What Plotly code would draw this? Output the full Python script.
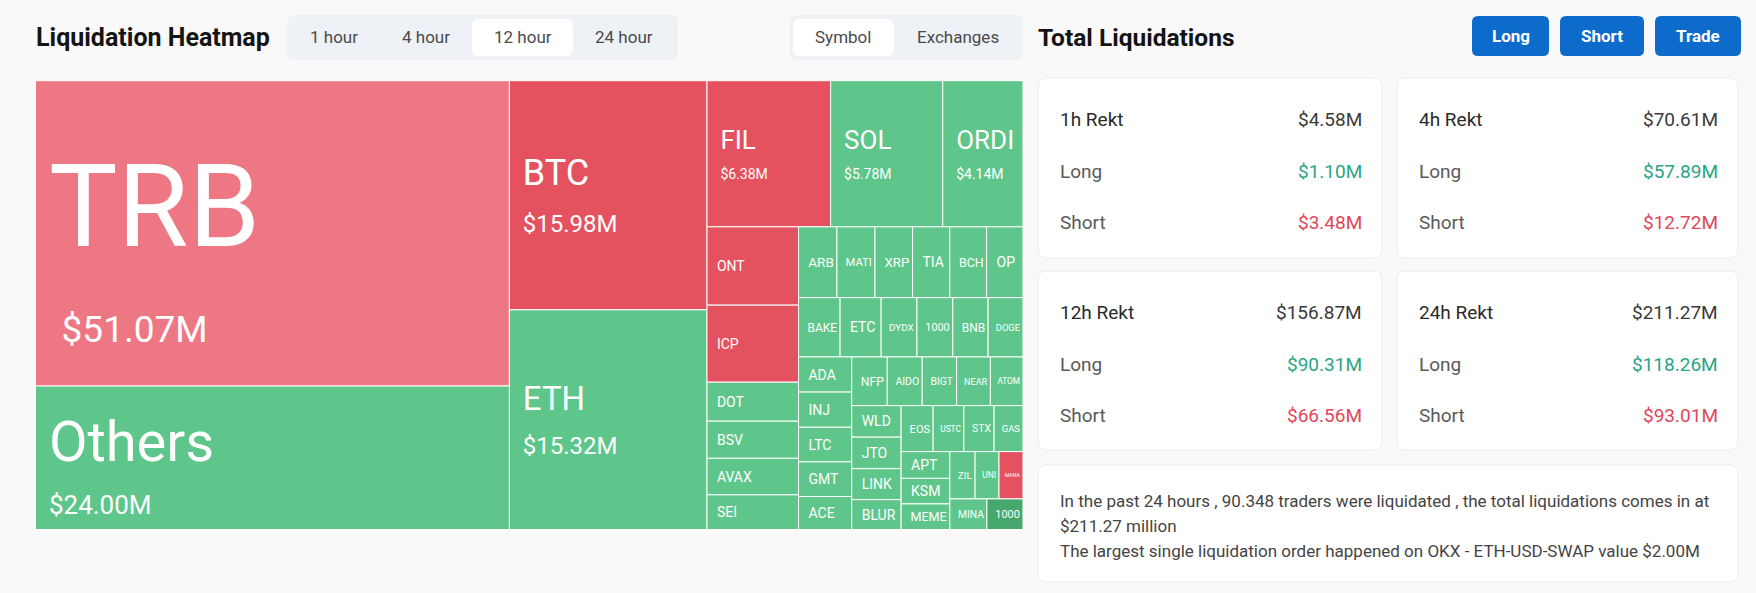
import plotly.graph_objects as go

# ---------------- data ----------------
symbols = ["TRB", "Others", "BTC", "ETH", "FIL", "SOL", "ORDI", "ONT", "ICP",
           "DOT", "BSV", "AVAX", "SEI", "ARB", "MATIC", "XRP", "TIA", "BCH", "OP",
           "BAKE", "ETC", "DYDX", "1000SATS", "BNB", "DOGE", "ADA", "INJ", "LTC",
           "GMT", "ACE", "NFP", "AIDOGE", "BIGTIME", "NEAR", "ATOM", "WLD", "JTO",
           "LINK", "BLUR", "EOS", "USTC", "STX", "GAS", "APT", "KSM", "MEME",
           "ZIL", "UNI", "MANA", "MINA", "1000BONK"]
liq_usd_m = [51.07, 24.00, 15.98, 15.32, 6.38, 5.78, 4.14, 2.53, 2.49,
             1.26, 1.20, 1.18, 1.12, 0.96, 0.95, 0.94, 0.93, 0.92, 0.91,
             0.87, 0.86, 0.75, 0.75, 0.74, 0.73, 0.66, 0.66, 0.65,
             0.65, 0.62, 0.61, 0.60, 0.59, 0.58, 0.56, 0.55, 0.55,
             0.54, 0.52, 0.52, 0.50, 0.49, 0.47, 0.46, 0.44, 0.44,
             0.42, 0.40, 0.40, 0.40, 0.39]
cell_tone = ["down_weak", "up", "down", "up", "down", "up", "up", "down", "down",
             "up", "up", "up", "up", "up", "up", "up", "up", "up", "up",
             "up", "up", "up", "up", "up", "up", "up", "up", "up",
             "up", "up", "up", "up", "up", "up", "up", "up", "up",
             "up", "up", "up", "up", "up", "up", "up", "up", "up",
             "up", "up", "down", "up", "up_strong"]

time_tabs = ["1 hour", "4 hour", "12 hour", "24 hour"]
selected_time = "12 hour"
view_tabs = ["Symbol", "Exchanges"]
selected_view = "Symbol"
action_buttons = ["Long", "Short", "Trade"]

periods = ["1h", "4h", "12h", "24h"]
total_rekt = [4.58, 70.61, 156.87, 211.27]
long_rekt = [1.10, 57.89, 90.31, 118.26]
short_rekt = [3.48, 12.72, 66.56, 93.01]

traders_24h = "90.348"
largest_exchange = "OKX"
largest_pair = "ETH-USD-SWAP"
largest_value_m = 2.00

# ---------------- styles ----------------
W, H = 1756, 593
FONT = "Roboto"
tone_colors = {"down_weak": "#EE7784", "down": "#E5525F",
               "up": "#5EC68A", "up_strong": "#47A86E"}
big_label_px = {"TRB": 115, "Others": 56, "BTC": 36, "ETH": 33,
                "FIL": 26, "SOL": 26, "ORDI": 26}
big_value_px = {"TRB": 37, "Others": 26, "BTC": 24, "ETH": 24,
                "FIL": 14, "SOL": 14, "ORDI": 14}
big_line_px = {"TRB": 74, "Others": 41, "BTC": 36, "ETH": 34,
               "FIL": 23, "SOL": 23, "ORDI": 23}
value_indent_px = {"TRB": 31}
top_strut_px = {"TRB": 140, "Others": 71}   # raises line box -> nudges text down
small_label_px = 14
small_max_chars = 4                         # cell text truncation (overflow)
NB = "\u00a0"


def fx(x):
    return x / W


def fy(y):
    return 1 - y / H


def sp(size, n=3):
    return f'<span style="font-size:{size}px">{NB * n}</span>'


cell_text, cell_size = [], []
for s, v in zip(symbols, liq_usd_m):
    if s in big_label_px:
        strut = sp(top_strut_px[s], 1) if s in top_strut_px else ""
        cell_text.append(
            f'{sp(14)}<span style="font-size:{big_label_px[s]}px">{s}</span>{strut}<br>'
            f'{sp(value_indent_px.get(s, 14))}'
            f'<span style="font-size:{big_value_px[s]}px">${v:.2f}M</span>')
        cell_size.append(big_line_px[s])
    else:
        cell_text.append(NB * 2 + s[:small_max_chars])
        cell_size.append(small_label_px)

fig = go.Figure(go.Treemap(
    labels=symbols,
    parents=[""] * len(symbols),
    values=liq_usd_m,
    text=cell_text,
    textinfo="text",
    textposition="middle left",
    textfont=dict(family=FONT, color="white", size=cell_size),
    marker=dict(colors=[tone_colors[t] for t in cell_tone],
                line=dict(color="white", width=1),
                pad=dict(t=0, l=0, r=0, b=0)),
    tiling=dict(packing="squarify", squarifyratio=1.618034, pad=0),
    pathbar=dict(visible=False),
    root=dict(color="rgba(0,0,0,0)"),
    sort=True,
    hoverinfo="skip",
    domain=dict(x=[fx(35.5), fx(1023)], y=[fy(529.5), fy(80.7)]),
))


def rrect(x0, y0, x1, y1, r, fill, line=None):
    p = (f"M {fx(x0 + r)},{fy(y0)} L {fx(x1 - r)},{fy(y0)} "
         f"Q {fx(x1)},{fy(y0)} {fx(x1)},{fy(y0 + r)} L {fx(x1)},{fy(y1 - r)} "
         f"Q {fx(x1)},{fy(y1)} {fx(x1 - r)},{fy(y1)} L {fx(x0 + r)},{fy(y1)} "
         f"Q {fx(x0)},{fy(y1)} {fx(x0)},{fy(y1 - r)} L {fx(x0)},{fy(y0 + r)} "
         f"Q {fx(x0)},{fy(y0)} {fx(x0 + r)},{fy(y0)} Z")
    return dict(type="path", path=p, xref="paper", yref="paper",
                fillcolor=fill, layer="below",
                line=dict(color=line if line else fill, width=1 if line else 0))


shapes, ann = [], []


def txt(x, y, s, size, color, anchor="left", bold=False):
    ann.append(dict(x=fx(x), y=fy(y), xref="paper", yref="paper",
                    text=f"<b>{s}</b>" if bold else s, showarrow=False,
                    xanchor=anchor, yanchor="middle",
                    font=dict(family=FONT, size=size, color=color)))


# header left
txt(34, 38, "Liquidation Heatmap", 25, "#141414", bold=True)
shapes.append(rrect(287, 15, 678, 60, 8, "#EEF1F6"))
tab_cx = [334, 426, 523, 624]
tab_box = [(292, 376), (380, 470), (472, 573), (575, 673)]
for lab, cx, bx in zip(time_tabs, tab_cx, tab_box):
    if lab == selected_time:
        shapes.append(rrect(bx[0], 19, bx[1], 56, 7, "#FFFFFF"))
    txt(cx, 37, lab, 17, "#4A4A4A", anchor="center")
shapes.append(rrect(790, 15, 1023, 60, 8, "#EEF1F6"))
view_cx = [843, 958]
view_box = [(793, 894), (898, 1019)]
for lab, cx, bx in zip(view_tabs, view_cx, view_box):
    if lab == selected_view:
        shapes.append(rrect(bx[0], 19, bx[1], 56, 7, "#FFFFFF"))
    txt(cx, 37, lab, 17, "#4A4A4A", anchor="center")

# header right
txt(1036, 37, "Total Liquidations", 24.5, "#141414", bold=True)
btn_box = [(1472, 1549), (1560, 1644), (1655, 1741)]
for lab, bx in zip(action_buttons, btn_box):
    shapes.append(rrect(bx[0], 16, bx[1], 56, 6, "#0D6CCB"))
    txt((bx[0] + bx[1]) / 2, 36, lab, 17, "#FFFFFF", anchor="center", bold=True)

# cards
card_x = [(1038, 1382), (1397, 1738)]
card_y = [(78, 258), (271, 450)]
row_off = [41, 93, 144]
for i, p in enumerate(periods):
    cx0, cx1 = card_x[i % 2]
    cy0, cy1 = card_y[i // 2]
    shapes.append(rrect(cx0, cy0, cx1, cy1, 8, "#FFFFFF", line="#EBEBEB"))
    lx, rx = cx0 + 20, cx1 - 18
    txt(lx, cy0 + row_off[0], f"{p} Rekt", 19, "#2A2A2A")
    txt(rx, cy0 + row_off[0], f"${total_rekt[i]:.2f}M", 19, "#3A3A3A", anchor="right")
    txt(lx, cy0 + row_off[1], "Long", 19, "#5A5A5A")
    txt(rx, cy0 + row_off[1], f"${long_rekt[i]:.2f}M", 19, "#2AA584", anchor="right")
    txt(lx, cy0 + row_off[2], "Short", 19, "#5A5A5A")
    txt(rx, cy0 + row_off[2], f"${short_rekt[i]:.2f}M", 19, "#E0475B", anchor="right")

shapes.append(rrect(1038, 465, 1738, 582, 8, "#FFFFFF", line="#EBEBEB"))
lines = [
    f"In the past 24 hours , {traders_24h} traders were liquidated , "
    f"the total liquidations comes in at",
    f"${total_rekt[3]:.2f} million",
    f"The largest single liquidation order happened on {largest_exchange} - "
    f"{largest_pair} value ${largest_value_m:.2f}M",
]
for ly, line in zip([501, 526, 551], lines):
    txt(1058, ly, line, 17, "#444444")

fig.update_layout(
    width=W, height=H,
    margin=dict(l=0, r=0, t=0, b=0),
    paper_bgcolor="#F9F9F9",
    plot_bgcolor="#F9F9F9",
    shapes=shapes,
    annotations=ann,
    showlegend=False,
)

fig.write_html("out.html", config={"displayModeBar": False},
               post_script="document.body.style.margin='0';"
                           "document.body.style.background='#F9F9F9';")
